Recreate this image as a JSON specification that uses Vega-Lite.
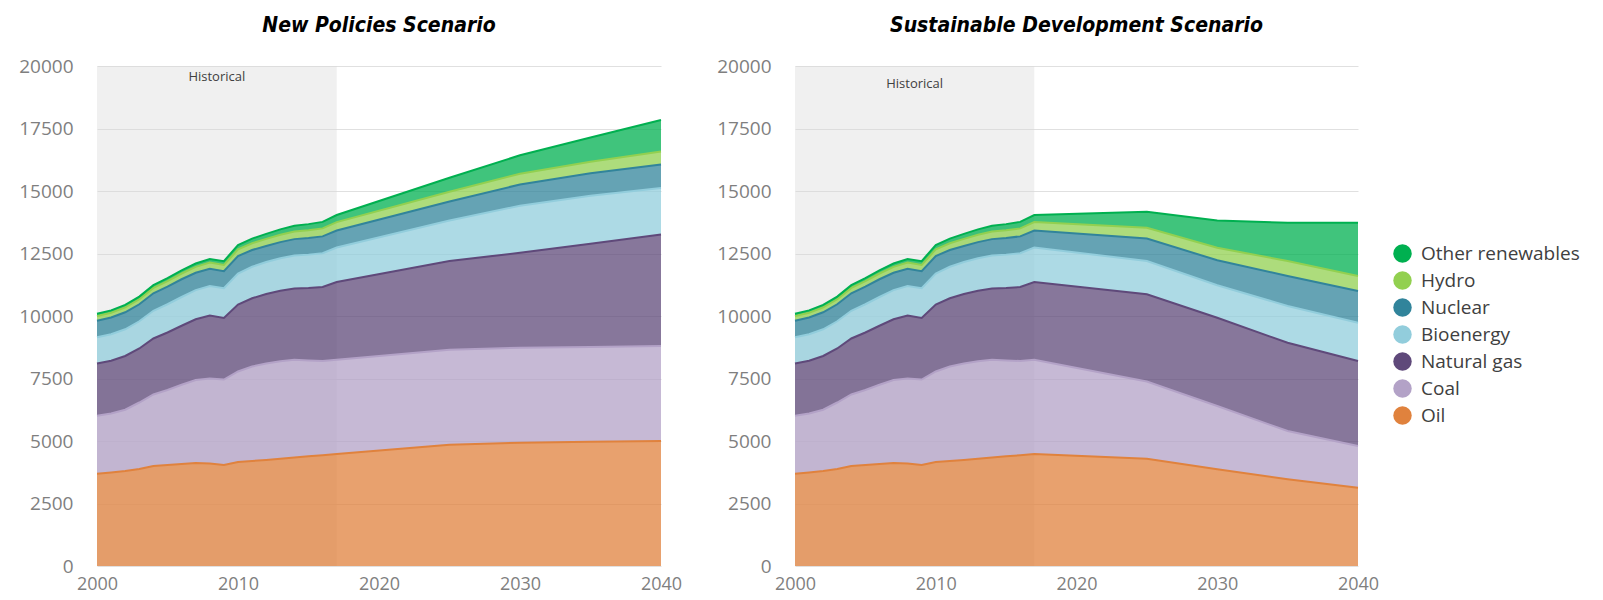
{
  "$schema": "https://vega.github.io/schema/vega-lite/v6.json",
  "padding": {"left": 18, "top": 15, "right": 0, "bottom": 0},
  "background": "white",
  "datasets": {
    "energy": [
      {"scenario":"Historical","year":2000,"fuel":"Oil","value":3690},{"scenario":"Historical","year":2000,"fuel":"Coal","value":2320},{"scenario":"Historical","year":2000,"fuel":"Natural gas","value":2090},{"scenario":"Historical","year":2000,"fuel":"Bioenergy","value":1050},{"scenario":"Historical","year":2000,"fuel":"Nuclear","value":660},{"scenario":"Historical","year":2000,"fuel":"Hydro","value":190},{"scenario":"Historical","year":2000,"fuel":"Other renewables","value":90},
      {"scenario":"Historical","year":2001,"fuel":"Oil","value":3740},{"scenario":"Historical","year":2001,"fuel":"Coal","value":2360},{"scenario":"Historical","year":2001,"fuel":"Natural gas","value":2110},{"scenario":"Historical","year":2001,"fuel":"Bioenergy","value":1060},{"scenario":"Historical","year":2001,"fuel":"Nuclear","value":670},{"scenario":"Historical","year":2001,"fuel":"Hydro","value":190},{"scenario":"Historical","year":2001,"fuel":"Other renewables","value":95},
      {"scenario":"Historical","year":2002,"fuel":"Oil","value":3800},{"scenario":"Historical","year":2002,"fuel":"Coal","value":2450},{"scenario":"Historical","year":2002,"fuel":"Natural gas","value":2150},{"scenario":"Historical","year":2002,"fuel":"Bioenergy","value":1070},{"scenario":"Historical","year":2002,"fuel":"Nuclear","value":680},{"scenario":"Historical","year":2002,"fuel":"Hydro","value":195},{"scenario":"Historical","year":2002,"fuel":"Other renewables","value":100},
      {"scenario":"Historical","year":2003,"fuel":"Oil","value":3880},{"scenario":"Historical","year":2003,"fuel":"Coal","value":2660},{"scenario":"Historical","year":2003,"fuel":"Natural gas","value":2160},{"scenario":"Historical","year":2003,"fuel":"Bioenergy","value":1090},{"scenario":"Historical","year":2003,"fuel":"Nuclear","value":680},{"scenario":"Historical","year":2003,"fuel":"Hydro","value":200},{"scenario":"Historical","year":2003,"fuel":"Other renewables","value":105},
      {"scenario":"Historical","year":2004,"fuel":"Oil","value":4000},{"scenario":"Historical","year":2004,"fuel":"Coal","value":2860},{"scenario":"Historical","year":2004,"fuel":"Natural gas","value":2240},{"scenario":"Historical","year":2004,"fuel":"Bioenergy","value":1110},{"scenario":"Historical","year":2004,"fuel":"Nuclear","value":700},{"scenario":"Historical","year":2004,"fuel":"Hydro","value":215},{"scenario":"Historical","year":2004,"fuel":"Other renewables","value":110},
      {"scenario":"Historical","year":2005,"fuel":"Oil","value":4040},{"scenario":"Historical","year":2005,"fuel":"Coal","value":3000},{"scenario":"Historical","year":2005,"fuel":"Natural gas","value":2300},{"scenario":"Historical","year":2005,"fuel":"Bioenergy","value":1130},{"scenario":"Historical","year":2005,"fuel":"Nuclear","value":705},{"scenario":"Historical","year":2005,"fuel":"Hydro","value":220},{"scenario":"Historical","year":2005,"fuel":"Other renewables","value":120},
      {"scenario":"Historical","year":2006,"fuel":"Oil","value":4080},{"scenario":"Historical","year":2006,"fuel":"Coal","value":3170},{"scenario":"Historical","year":2006,"fuel":"Natural gas","value":2360},{"scenario":"Historical","year":2006,"fuel":"Bioenergy","value":1150},{"scenario":"Historical","year":2006,"fuel":"Nuclear","value":710},{"scenario":"Historical","year":2006,"fuel":"Hydro","value":230},{"scenario":"Historical","year":2006,"fuel":"Other renewables","value":125},
      {"scenario":"Historical","year":2007,"fuel":"Oil","value":4120},{"scenario":"Historical","year":2007,"fuel":"Coal","value":3320},{"scenario":"Historical","year":2007,"fuel":"Natural gas","value":2430},{"scenario":"Historical","year":2007,"fuel":"Bioenergy","value":1165},{"scenario":"Historical","year":2007,"fuel":"Nuclear","value":695},{"scenario":"Historical","year":2007,"fuel":"Hydro","value":235},{"scenario":"Historical","year":2007,"fuel":"Other renewables","value":135},
      {"scenario":"Historical","year":2008,"fuel":"Oil","value":4100},{"scenario":"Historical","year":2008,"fuel":"Coal","value":3400},{"scenario":"Historical","year":2008,"fuel":"Natural gas","value":2520},{"scenario":"Historical","year":2008,"fuel":"Bioenergy","value":1180},{"scenario":"Historical","year":2008,"fuel":"Nuclear","value":690},{"scenario":"Historical","year":2008,"fuel":"Hydro","value":245},{"scenario":"Historical","year":2008,"fuel":"Other renewables","value":145},
      {"scenario":"Historical","year":2009,"fuel":"Oil","value":4040},{"scenario":"Historical","year":2009,"fuel":"Coal","value":3420},{"scenario":"Historical","year":2009,"fuel":"Natural gas","value":2460},{"scenario":"Historical","year":2009,"fuel":"Bioenergy","value":1195},{"scenario":"Historical","year":2009,"fuel":"Nuclear","value":680},{"scenario":"Historical","year":2009,"fuel":"Hydro","value":245},{"scenario":"Historical","year":2009,"fuel":"Other renewables","value":155},
      {"scenario":"Historical","year":2010,"fuel":"Oil","value":4160},{"scenario":"Historical","year":2010,"fuel":"Coal","value":3620},{"scenario":"Historical","year":2010,"fuel":"Natural gas","value":2680},{"scenario":"Historical","year":2010,"fuel":"Bioenergy","value":1240},{"scenario":"Historical","year":2010,"fuel":"Nuclear","value":700},{"scenario":"Historical","year":2010,"fuel":"Hydro","value":265},{"scenario":"Historical","year":2010,"fuel":"Other renewables","value":170},
      {"scenario":"Historical","year":2011,"fuel":"Oil","value":4200},{"scenario":"Historical","year":2011,"fuel":"Coal","value":3780},{"scenario":"Historical","year":2011,"fuel":"Natural gas","value":2730},{"scenario":"Historical","year":2011,"fuel":"Bioenergy","value":1260},{"scenario":"Historical","year":2011,"fuel":"Nuclear","value":670},{"scenario":"Historical","year":2011,"fuel":"Hydro","value":270},{"scenario":"Historical","year":2011,"fuel":"Other renewables","value":185},
      {"scenario":"Historical","year":2012,"fuel":"Oil","value":4240},{"scenario":"Historical","year":2012,"fuel":"Coal","value":3860},{"scenario":"Historical","year":2012,"fuel":"Natural gas","value":2780},{"scenario":"Historical","year":2012,"fuel":"Bioenergy","value":1280},{"scenario":"Historical","year":2012,"fuel":"Nuclear","value":640},{"scenario":"Historical","year":2012,"fuel":"Hydro","value":285},{"scenario":"Historical","year":2012,"fuel":"Other renewables","value":200},
      {"scenario":"Historical","year":2013,"fuel":"Oil","value":4290},{"scenario":"Historical","year":2013,"fuel":"Coal","value":3900},{"scenario":"Historical","year":2013,"fuel":"Natural gas","value":2820},{"scenario":"Historical","year":2013,"fuel":"Bioenergy","value":1300},{"scenario":"Historical","year":2013,"fuel":"Nuclear","value":645},{"scenario":"Historical","year":2013,"fuel":"Hydro","value":295},{"scenario":"Historical","year":2013,"fuel":"Other renewables","value":215},
      {"scenario":"Historical","year":2014,"fuel":"Oil","value":4340},{"scenario":"Historical","year":2014,"fuel":"Coal","value":3910},{"scenario":"Historical","year":2014,"fuel":"Natural gas","value":2850},{"scenario":"Historical","year":2014,"fuel":"Bioenergy","value":1320},{"scenario":"Historical","year":2014,"fuel":"Nuclear","value":655},{"scenario":"Historical","year":2014,"fuel":"Hydro","value":305},{"scenario":"Historical","year":2014,"fuel":"Other renewables","value":230},
      {"scenario":"Historical","year":2015,"fuel":"Oil","value":4390},{"scenario":"Historical","year":2015,"fuel":"Coal","value":3830},{"scenario":"Historical","year":2015,"fuel":"Natural gas","value":2900},{"scenario":"Historical","year":2015,"fuel":"Bioenergy","value":1335},{"scenario":"Historical","year":2015,"fuel":"Nuclear","value":665},{"scenario":"Historical","year":2015,"fuel":"Hydro","value":310},{"scenario":"Historical","year":2015,"fuel":"Other renewables","value":245},
      {"scenario":"Historical","year":2016,"fuel":"Oil","value":4430},{"scenario":"Historical","year":2016,"fuel":"Coal","value":3770},{"scenario":"Historical","year":2016,"fuel":"Natural gas","value":2960},{"scenario":"Historical","year":2016,"fuel":"Bioenergy","value":1350},{"scenario":"Historical","year":2016,"fuel":"Nuclear","value":675},{"scenario":"Historical","year":2016,"fuel":"Hydro","value":320},{"scenario":"Historical","year":2016,"fuel":"Other renewables","value":260},
      {"scenario":"Historical","year":2017,"fuel":"Oil","value":4480},{"scenario":"Historical","year":2017,"fuel":"Coal","value":3770},{"scenario":"Historical","year":2017,"fuel":"Natural gas","value":3110},{"scenario":"Historical","year":2017,"fuel":"Bioenergy","value":1380},{"scenario":"Historical","year":2017,"fuel":"Nuclear","value":680},{"scenario":"Historical","year":2017,"fuel":"Hydro","value":335},{"scenario":"Historical","year":2017,"fuel":"Other renewables","value":285},
      {"scenario":"New Policies","year":2025,"fuel":"Oil","value":4850},{"scenario":"New Policies","year":2025,"fuel":"Coal","value":3800},{"scenario":"New Policies","year":2025,"fuel":"Natural gas","value":3550},{"scenario":"New Policies","year":2025,"fuel":"Bioenergy","value":1620},{"scenario":"New Policies","year":2025,"fuel":"Nuclear","value":760},{"scenario":"New Policies","year":2025,"fuel":"Hydro","value":390},{"scenario":"New Policies","year":2025,"fuel":"Other renewables","value":560},
      {"scenario":"New Policies","year":2030,"fuel":"Oil","value":4930},{"scenario":"New Policies","year":2030,"fuel":"Coal","value":3800},{"scenario":"New Policies","year":2030,"fuel":"Natural gas","value":3800},{"scenario":"New Policies","year":2030,"fuel":"Bioenergy","value":1880},{"scenario":"New Policies","year":2030,"fuel":"Nuclear","value":850},{"scenario":"New Policies","year":2030,"fuel":"Hydro","value":430},{"scenario":"New Policies","year":2030,"fuel":"Other renewables","value":740},
      {"scenario":"New Policies","year":2035,"fuel":"Oil","value":4970},{"scenario":"New Policies","year":2035,"fuel":"Coal","value":3790},{"scenario":"New Policies","year":2035,"fuel":"Natural gas","value":4130},{"scenario":"New Policies","year":2035,"fuel":"Bioenergy","value":1920},{"scenario":"New Policies","year":2035,"fuel":"Nuclear","value":900},{"scenario":"New Policies","year":2035,"fuel":"Hydro","value":460},{"scenario":"New Policies","year":2035,"fuel":"Other renewables","value":970},
      {"scenario":"New Policies","year":2040,"fuel":"Oil","value":5000},{"scenario":"New Policies","year":2040,"fuel":"Coal","value":3800},{"scenario":"New Policies","year":2040,"fuel":"Natural gas","value":4460},{"scenario":"New Policies","year":2040,"fuel":"Bioenergy","value":1860},{"scenario":"New Policies","year":2040,"fuel":"Nuclear","value":940},{"scenario":"New Policies","year":2040,"fuel":"Hydro","value":520},{"scenario":"New Policies","year":2040,"fuel":"Other renewables","value":1260},
      {"scenario":"Sustainable Development","year":2025,"fuel":"Oil","value":4290},{"scenario":"Sustainable Development","year":2025,"fuel":"Coal","value":3090},{"scenario":"Sustainable Development","year":2025,"fuel":"Natural gas","value":3490},{"scenario":"Sustainable Development","year":2025,"fuel":"Bioenergy","value":1330},{"scenario":"Sustainable Development","year":2025,"fuel":"Nuclear","value":900},{"scenario":"Sustainable Development","year":2025,"fuel":"Hydro","value":430},{"scenario":"Sustainable Development","year":2025,"fuel":"Other renewables","value":640},
      {"scenario":"Sustainable Development","year":2030,"fuel":"Oil","value":3870},{"scenario":"Sustainable Development","year":2030,"fuel":"Coal","value":2530},{"scenario":"Sustainable Development","year":2030,"fuel":"Natural gas","value":3530},{"scenario":"Sustainable Development","year":2030,"fuel":"Bioenergy","value":1300},{"scenario":"Sustainable Development","year":2030,"fuel":"Nuclear","value":1000},{"scenario":"Sustainable Development","year":2030,"fuel":"Hydro","value":500},{"scenario":"Sustainable Development","year":2030,"fuel":"Other renewables","value":1090},
      {"scenario":"Sustainable Development","year":2035,"fuel":"Oil","value":3470},{"scenario":"Sustainable Development","year":2035,"fuel":"Coal","value":1930},{"scenario":"Sustainable Development","year":2035,"fuel":"Natural gas","value":3530},{"scenario":"Sustainable Development","year":2035,"fuel":"Bioenergy","value":1470},{"scenario":"Sustainable Development","year":2035,"fuel":"Nuclear","value":1200},{"scenario":"Sustainable Development","year":2035,"fuel":"Hydro","value":600},{"scenario":"Sustainable Development","year":2035,"fuel":"Other renewables","value":1530},
      {"scenario":"Sustainable Development","year":2040,"fuel":"Oil","value":3130},{"scenario":"Sustainable Development","year":2040,"fuel":"Coal","value":1670},{"scenario":"Sustainable Development","year":2040,"fuel":"Natural gas","value":3400},{"scenario":"Sustainable Development","year":2040,"fuel":"Bioenergy","value":1530},{"scenario":"Sustainable Development","year":2040,"fuel":"Nuclear","value":1270},{"scenario":"Sustainable Development","year":2040,"fuel":"Hydro","value":600},{"scenario":"Sustainable Development","year":2040,"fuel":"Other renewables","value":2130}
    ],
    "history": [{"start": 2000, "end": 2017, "mid": 2008.5, "label": "Historical"}]
  },
  "spacing": 34,
  "hconcat": [
    {
      "width": 564,
      "height": 500,
      "title": {"text": "New Policies Scenario"},
      "layer": [
        {
          "data": {"name": "history"},
          "mark": {"type": "rect", "color": "#d9d9d9", "opacity": 0.4},
          "encoding": {
            "x": {"field": "start", "type": "quantitative", "scale": {"domain": [2000, 2040], "nice": false, "zero": false},
                  "axis": {"values": [2000, 2010, 2020, 2030, 2040], "format": "d", "title": null, "grid": false, "labelPadding": 9, "labelFontSize": 18, "labelFlush": false}},
            "x2": {"field": "end"}
          }
        },
        {
          "data": {"name": "history"},
          "mark": {"type": "text", "font": "Open Sans", "fontSize": 13, "color": "#404040", "align": "center", "baseline": "middle"},
          "encoding": {
            "x": {"field": "mid", "type": "quantitative", "scale": {"domain": [2000, 2040], "nice": false, "zero": false},
                  "axis": {"values": [2000, 2010, 2020, 2030, 2040], "format": "d", "title": null, "grid": false, "labelPadding": 9, "labelFontSize": 18, "labelFlush": false}},
            "y": {"datum": 19560, "type": "quantitative", "scale": {"domain": [0, 20000], "nice": false},
                  "axis": {"values": [0, 2500, 5000, 7500, 10000, 12500, 15000, 17500, 20000], "format": "d", "title": null, "grid": true, "labelPadding": 24}},
            "text": {"field": "label"}
          }
        },
        {
          "data": {"name": "energy"},
          "transform": [
            {"filter": "datum.scenario === 'Historical' || datum.scenario === 'New Policies'"},
            {"calculate": "indexof(['Oil','Coal','Natural gas','Bioenergy','Nuclear','Hydro','Other renewables'], datum.fuel)", "as": "rank"}
          ],
          "mark": {"type": "area", "fillOpacity": 0.75, "line": {"strokeWidth": 2}},
          "encoding": {
            "x": {"field": "year", "type": "quantitative", "scale": {"domain": [2000, 2040], "nice": false, "zero": false},
                  "axis": {"values": [2000, 2010, 2020, 2030, 2040], "format": "d", "title": null, "grid": false, "labelPadding": 9, "labelFontSize": 18, "labelFlush": false}},
            "y": {"field": "value", "type": "quantitative", "stack": "zero", "scale": {"domain": [0, 20000], "nice": false},
                  "axis": {"values": [0, 2500, 5000, 7500, 10000, 12500, 15000, 17500, 20000], "format": "d", "title": null, "grid": true, "labelPadding": 24}},
            "order": {"field": "rank", "type": "quantitative"},
            "color": {
              "field": "fuel", "type": "nominal",
              "scale": {
                "domain": ["Other renewables", "Hydro", "Nuclear", "Bioenergy", "Natural gas", "Coal", "Oil"],
                "range": ["#00b050", "#92d050", "#31849b", "#92cddc", "#5f497a", "#b3a2c7", "#e0823d"]
              },
              "legend": {
                "title": null, "orient": "none", "legendX": 1296, "legendY": 178,
                "symbolType": "circle", "symbolSize": 340, "symbolOpacity": 1, "symbolStrokeWidth": 0,
                "labelFont": "Open Sans", "labelFontSize": 19, "labelColor": "#404040",
                "rowPadding": 7, "labelOffset": 9, "padding": 0
              }
            }
          }
        }
      ]
    },
    {
      "width": 563,
      "height": 500,
      "title": {"text": "Sustainable Development Scenario"},
      "layer": [
        {
          "data": {"name": "history"},
          "mark": {"type": "rect", "color": "#d9d9d9", "opacity": 0.4},
          "encoding": {
            "x": {"field": "start", "type": "quantitative", "scale": {"domain": [2000, 2040], "nice": false, "zero": false},
                  "axis": {"values": [2000, 2010, 2020, 2030, 2040], "format": "d", "title": null, "grid": false, "labelPadding": 9, "labelFontSize": 18, "labelFlush": false}},
            "x2": {"field": "end"}
          }
        },
        {
          "data": {"name": "history"},
          "mark": {"type": "text", "font": "Open Sans", "fontSize": 13, "color": "#404040", "align": "center", "baseline": "middle"},
          "encoding": {
            "x": {"field": "mid", "type": "quantitative", "scale": {"domain": [2000, 2040], "nice": false, "zero": false},
                  "axis": {"values": [2000, 2010, 2020, 2030, 2040], "format": "d", "title": null, "grid": false, "labelPadding": 9, "labelFontSize": 18, "labelFlush": false}},
            "y": {"datum": 19280, "type": "quantitative", "scale": {"domain": [0, 20000], "nice": false},
                  "axis": {"values": [0, 2500, 5000, 7500, 10000, 12500, 15000, 17500, 20000], "format": "d", "title": null, "grid": true, "labelPadding": 24}},
            "text": {"field": "label"}
          }
        },
        {
          "data": {"name": "energy"},
          "transform": [
            {"filter": "datum.scenario === 'Historical' || datum.scenario === 'Sustainable Development'"},
            {"calculate": "indexof(['Oil','Coal','Natural gas','Bioenergy','Nuclear','Hydro','Other renewables'], datum.fuel)", "as": "rank"}
          ],
          "mark": {"type": "area", "fillOpacity": 0.75, "line": {"strokeWidth": 2}},
          "encoding": {
            "x": {"field": "year", "type": "quantitative", "scale": {"domain": [2000, 2040], "nice": false, "zero": false},
                  "axis": {"values": [2000, 2010, 2020, 2030, 2040], "format": "d", "title": null, "grid": false, "labelPadding": 9, "labelFontSize": 18, "labelFlush": false}},
            "y": {"field": "value", "type": "quantitative", "stack": "zero", "scale": {"domain": [0, 20000], "nice": false},
                  "axis": {"values": [0, 2500, 5000, 7500, 10000, 12500, 15000, 17500, 20000], "format": "d", "title": null, "grid": true, "labelPadding": 24}},
            "order": {"field": "rank", "type": "quantitative"},
            "color": {
              "field": "fuel", "type": "nominal",
              "scale": {
                "domain": ["Other renewables", "Hydro", "Nuclear", "Bioenergy", "Natural gas", "Coal", "Oil"],
                "range": ["#00b050", "#92d050", "#31849b", "#92cddc", "#5f497a", "#b3a2c7", "#e0823d"]
              },
              "legend": null
            }
          }
        }
      ]
    }
  ],
  "config": {
    "view": {"stroke": null},
    "axis": {
      "labelFont": "Open Sans", "labelFontSize": 19, "labelColor": "#7f7f7f",
      "ticks": false, "domain": false, "gridColor": "#e0e0e0", "gridWidth": 1
    },
    "title": {
      "font": "DejaVu Sans Condensed", "fontSize": 21, "fontWeight": "bold", "fontStyle": "italic",
      "color": "#000000", "anchor": "middle", "offset": 21
    }
  }
}
